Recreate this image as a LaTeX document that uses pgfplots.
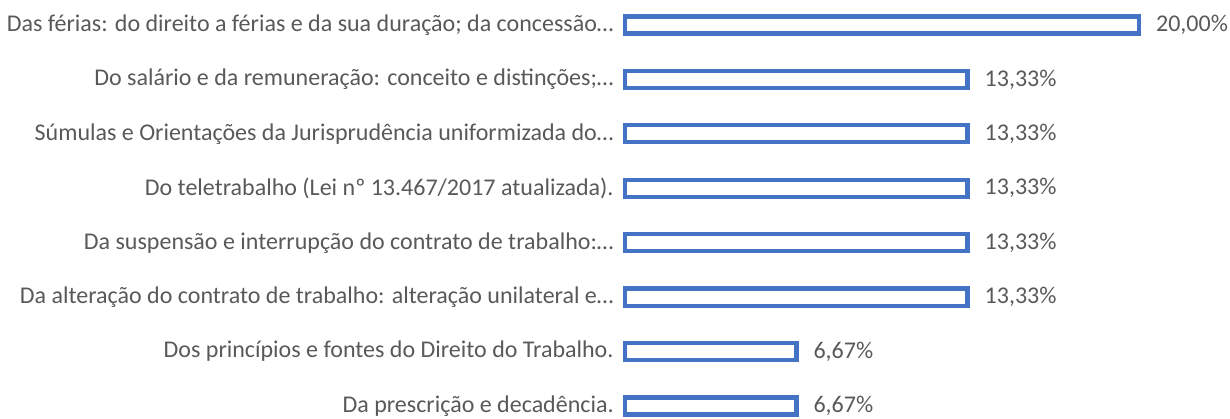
\documentclass[border=0pt]{standalone}
\usepackage{pgfplots}
\pgfplotsset{compat=1.18}
\usepackage{fontspec}
\setmainfont{Carlito}
\definecolor{barblue}{HTML}{4472C4}
\definecolor{txtgray}{HTML}{595959}
\begin{document}
\begin{tikzpicture}
\begin{axis}[
  name=ax,
  scale only axis,
  width=257pt, height=209.5pt,
  xmin=0, xmax=20,
  ymin=-0.24, ymax=7.46,
  clip=false,
  axis line style={draw=none},
  tick style={draw=none},
  major tick length=0pt,
  xtick=\empty,
  ytick={0,1,2,3,4,5,6,7},
  yticklabels={
    Da prescrição e decadência.,
    Dos princípios e fontes do Direito do Trabalho.,
    Da alteração do contrato de trabalho: alteração unilateral e…,
    Da suspensão e interrupção do contrato de trabalho:…,
    Do teletrabalho (Lei nº 13.467/2017 atualizada).,
    Súmulas e Orientações da Jurisprudência uniformizada do…,
    Do salário e da remuneração: conceito e distinções;…,
    Das férias: do direito a férias e da sua duração; da concessão…
  },
  yticklabel style={font=\fontsize{12}{14}\selectfont, text=txtgray, inner sep=0pt, anchor=east, xshift=-5.5pt},
  xbar,
  bar width=8.5pt,
  point meta=explicit symbolic,
  nodes near coords,
  nodes near coords style={font=\fontsize{12}{14}\selectfont, text=txtgray, anchor=west, inner sep=0pt, xshift=7.5pt},
]
\addplot[draw=barblue, fill=white, line width=2.1pt] coordinates {
  (20.00,7) [20,00\%]
  (13.33,6) [13,33\%]
  (13.33,5) [13,33\%]
  (13.33,4) [13,33\%]
  (13.33,3) [13,33\%]
  (13.33,2) [13,33\%]
  (6.67,1) [6,67\%]
  (6.67,0) [6,67\%]
};
\end{axis}
\pgfresetboundingbox
\path ([xshift=-312.5pt]ax.south west) rectangle ([xshift=45.5pt]ax.north east);
\end{tikzpicture}
\end{document}
